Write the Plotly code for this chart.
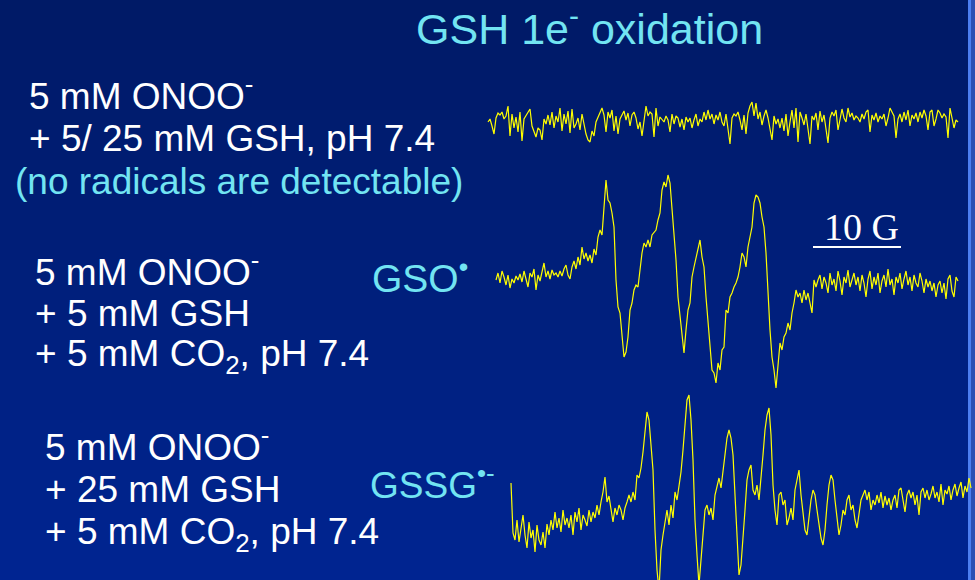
import numpy as np
import plotly.graph_objects as go

# ---------------- data ----------------
# EPR spectra: intensity (arbitrary units) sampled every FIELD_STEP gauss
FIELD_STEP = 2 / 8.8          # gauss per sample
FIELD_START = [0.0, 0.909, 2.614]   # gauss, first sample of each spectrum

# 5 mM ONOO- + 5/25 mM GSH (noise only)
spec_noise = [
    0, 3, -4, -12, 4, 9, 7, 10, 3, 6,
    16, -14, 8, -6, 5, -10, 10, -19, 3, 6,
    9, 13, -4, -10, -15, -6, -8, -18, 3, -2,
    7, -3, 10, -6, 6, 0, 14, -9, 8, -2,
    11, -11, 13, -6, -2, 4, -8, 8, -3, -12,
    -18, -20, -9, -14, 0, 5, 9, 14, 7, -10,
    10, 4, 12, -9, 6, -12, 3, 8, 11, 2,
    9, -4, 7, 10, 4, -7, 0, -14, 3, 16,
    6, 10, 8, -15, 14, -4, 5, 3, 0, 6,
    2, -10, 8, -2, 6, 4, -5, 3, -8, 5,
    0, 4, -6, 2, 8, -4, 3, 0, 10, 2,
    12, 3, 8, -2, 7, 2, 10, 0, -4, 8,
    -6, -22, 4, 8, 6, 10, 2, -8, 7, -12,
    9, 16, 20, 6, 19, 3, 10, -3, 6, 12,
    4, -8, -18, 6, -2, 3, -6, 4, -9, 8,
    -14, 0, 12, -6, 14, -20, 10, 4, -3, 8,
    -10, -22, 6, 2, 9, -8, 11, 0, 7, -6,
    -21, 4, 10, 6, 12, -8, 2, 13, 4, 0,
    14, 5, 9, 2, 6, 4, 0, 8, 3, 10,
    12, -10, 7, 2, 9, 0, 6, 3, 8, -4,
    4, 14, 10, 6, -16, 3, 8, 0, 10, 2,
    12, -4, 7, 3, 9, 0, 10, 4, 12, 6,
    -8, 10, 12, -4, 3, 12, 9, 4, 8, 5,
    -16, 14, 4, -6, 2, 0,
]

# GSO. radical (5 mM GSH + 5 mM CO2)
spec_gso = [
    5, 12, 2, 14, 8, 0, 10, -3, 6, 2,
    9, 5, 11, 3, 14, 6, -2, 12, 8, 16,
    -5, 10, 4, 13, 22, 8, 14, 6, 15, 10,
    12, 8, 14, 9, 16, 20, 10, 6, 18, 24,
    16, 28, 20, 38, 26, 32, 24, 30, 22, 36,
    30, 48, 55, 50, 80, 105,
    85, 82, 72, 58, 5, -22, -28, -52, -72, -67,
    -52, -25, -18, -5, 0, -2, 15, 32, 42, 38,
    45, 38, 50, 52, 55, 65, 72, 95, 103, 98,
    110, 102, 78, 55, 25, -12, -32, -45, -68, -45,
    -25, -18, 8, 18, 28, 35, 45, 28, 18, -12,
    -38, -58, -85, -88, -98, -78, -85, -65, -62, -25,
    -28, -12, -8, -2, 2, 8, 18, 32, 28, 18,
    38, 48, 58, 82, 90, 88, 82, 68, 58, 32,
    -12, -45, -72, -85, -103, -78, -58, -65, -52, -48,
    -38, -45, -28, -18, -5, -12, -8, -18, -5, -15,
    -8, -18, -28, 5, -2, 5,
    10, -4, 8, 2, -8, 12, 0, 6, -6, 14,
    4, -10, 8, 2, 15, -2, 6, 12, 0, 8,
    -6, 10, 2, -12, 6, 14, -4, 8, 0, 12,
    -8, 4, 10, -2, 16, 0, 6, -10, 8, 2,
    12, -4, 6, 14, 0, 8, -6, 10, 2, -2,
    12, 4, -8, 6, -2, 4, -6, 2, -12, 0,
    4, -8, 2, -14, 6, 10, -6, -12, 8, 4,
]

# GSSG.- radical anion (25 mM GSH + 5 mM CO2)
spec_gssg = [
    17, -33, -40, -20, -42, -28, -15, -35, -48, -22,
    -38, -30, -52, -25, -40, -45, -32, -48, -24, -35,
    -20, -30, -12, -28, -18, -32, -10, -25, -18, -28,
    -15, -35, -12, -22, -8, -30, -15, -20, -26, -10,
    -22, -12, -18, -5, -15, -2, 8, 23, -2, 4,
    -12, -22, -8, -15, -5, -10, -20, -8, -2, 5,
    -2, 8, 0, 25, 22, 32, 48, 70, 88, 80,
    55, 30, -30, -70, -90, -50, -35, -20, -10, -25,
    -5, -18, 8, 0, 15, 28, 50, 78, 100, 105,
    80, 40, -20, -55, -85, -60, -35, -10, -5, -15,
    -8, -20, 5, 15, 22, 12, 30, 50, 62, 70,
    62, 45, 0, -40, -75, -65, -40, -10, 20, 30,
    35, 10, 5, 15, 0, 20, 45, 70, 85, 92,
    65, 15, -10, -25, 5, 8, -5, 0, -25, -18,
    -8, -20, 10, 20, 30, 5, -10, -30, -35, -15,
    0, 10, 5, -10, -25, -38, -45, -30, -5, 15,
    25, 20, 0, -20, -35, -25, -10, -15, 0, 5,
    -10, -5, -20, -28, -15, 0, 5, 10, 0, 8,
    -10, 0, -5, 5, -3, 8, -8, 4, -5, 2,
    -10, 0, 5, -8, 10, 12, 0, -12, 5, 10,
    2, 8, -5, 5, -15, 8, 12, 2, 10, 0,
    6, 14, 2, 8, -2, 16, -5, 10, 6, 14,
    0, 10, 16, 4, 12, 18, 2, 14, 8, 22,
    12,
]

SCALE_BAR_G = 10  # gauss

# ---------------- layout helpers ----------------
W, H = 975, 580
PX_PER_G = 8.8
X0_PX = 488                      # pixel where field = 0
BASES = [122, 285, 500]          # pixel baseline of each spectrum

def fx(px):
    return px / W

def fy(py):
    return 1 - py / H

YELLOW = "#ffff00"
CYAN = "#72e4f2"
WHITE = "#ffffff"
SANS = "Liberation Sans, Arial, sans-serif"
SERIF = "Liberation Serif, Times New Roman, serif"

fig = go.Figure()

spectra = [spec_noise, spec_gso, spec_gssg]
axes = ["y", "y2", "y3"]
for vals, start, ax in zip(spectra, FIELD_START, axes):
    field = start + FIELD_STEP * np.arange(len(vals))
    fig.add_trace(go.Scatter(
        x=field, y=vals, yaxis=ax, mode="lines",
        line=dict(color=YELLOW, width=1.2),
        hoverinfo="skip", showlegend=False,
    ))

# background gradient
shapes = []
n_band = 58
top = np.array([0, 26, 102])
bot = np.array([0, 37, 146])
for i in range(n_band):
    c = top + (bot - top) * (i + 0.5) / n_band
    shapes.append(dict(
        type="rect", xref="paper", yref="paper", layer="below",
        x0=0, x1=1, y0=1 - (i + 1) / n_band, y1=1 - i / n_band,
        fillcolor=f"rgb({int(c[0])},{int(c[1])},{int(c[2])})",
        line=dict(width=0),
    ))
# right edge stripes of the slide
shapes.append(dict(type="rect", xref="paper", yref="paper", layer="below",
                   x0=fx(971), x1=1, y0=0, y1=1,
                   fillcolor="#2c4fb4", line=dict(width=0)))
shapes.append(dict(type="rect", xref="paper", yref="paper", layer="below",
                   x0=fx(968), x1=fx(971), y0=0, y1=1,
                   fillcolor="#4c7ef0", line=dict(width=0)))
# 10 G scale bar (underline)
bar_start = (813 - X0_PX) / PX_PER_G
shapes.append(dict(type="line", xref="x", yref="paper",
                   x0=bar_start, x1=bar_start + SCALE_BAR_G,
                   y0=fy(247), y1=fy(247),
                   line=dict(color=WHITE, width=2)))

ann = []

def text(s, x, y, size, color=WHITE, family=SANS, xanchor="left"):
    ann.append(dict(text=s, x=fx(x), y=fy(y), xref="paper", yref="paper",
                    xanchor=xanchor, yanchor="middle", showarrow=False,
                    font=dict(size=size, color=color, family=family)))

text("GSH 1e<sup>-</sup> oxidation", 589, 26, 43, CYAN, xanchor="center")

text("5 mM ONOO<sup>-</sup>", 27, 93, 37)
text("+ 5/ 25 mM GSH, pH 7.4", 27, 138, 37)
text("(no radicals are detectable)", 13, 181, 37, CYAN)

text("5 mM ONOO<sup>-</sup>", 33, 269, 37)
text("+ 5 mM GSH", 33, 313, 37)
text("+ 5 mM CO<sub>2</sub>, pH 7.4", 33, 356, 37)

text("5 mM ONOO<sup>-</sup>", 43, 444, 37)
text("+ 25 mM GSH", 43, 489, 37)
text("+ 5 mM CO<sub>2</sub>, pH 7.4", 43, 534, 37)

text("GSO<sup>•</sup>", 370, 275, 39, CYAN)
text("GSSG<sup>•-</sup>", 368, 482, 37, CYAN)

text("10 G", 861, 227, 38, WHITE, family=SERIF, xanchor="center")

xr = [-X0_PX / PX_PER_G, (W - X0_PX) / PX_PER_G]
hidden = dict(visible=False, showgrid=False, zeroline=False, fixedrange=True)

fig.update_layout(
    width=W, height=H,
    margin=dict(l=0, r=0, t=0, b=0),
    paper_bgcolor="#001f7c",
    plot_bgcolor="rgba(0,0,0,0)",
    shapes=shapes,
    annotations=ann,
    xaxis=dict(range=xr, domain=[0, 1], **hidden),
    yaxis=dict(range=[BASES[0] - H, BASES[0]], domain=[0, 1], **hidden),
    yaxis2=dict(range=[BASES[1] - H, BASES[1]], domain=[0, 1],
                overlaying="y", **hidden),
    yaxis3=dict(range=[BASES[2] - H, BASES[2]], domain=[0, 1],
                overlaying="y", **hidden),
    showlegend=False,
)

fig.write_html(
    "out.html",
    config={"displayModeBar": False},
    post_script="document.body.style.margin='0px';"
                "document.body.style.overflow='hidden';",
)
